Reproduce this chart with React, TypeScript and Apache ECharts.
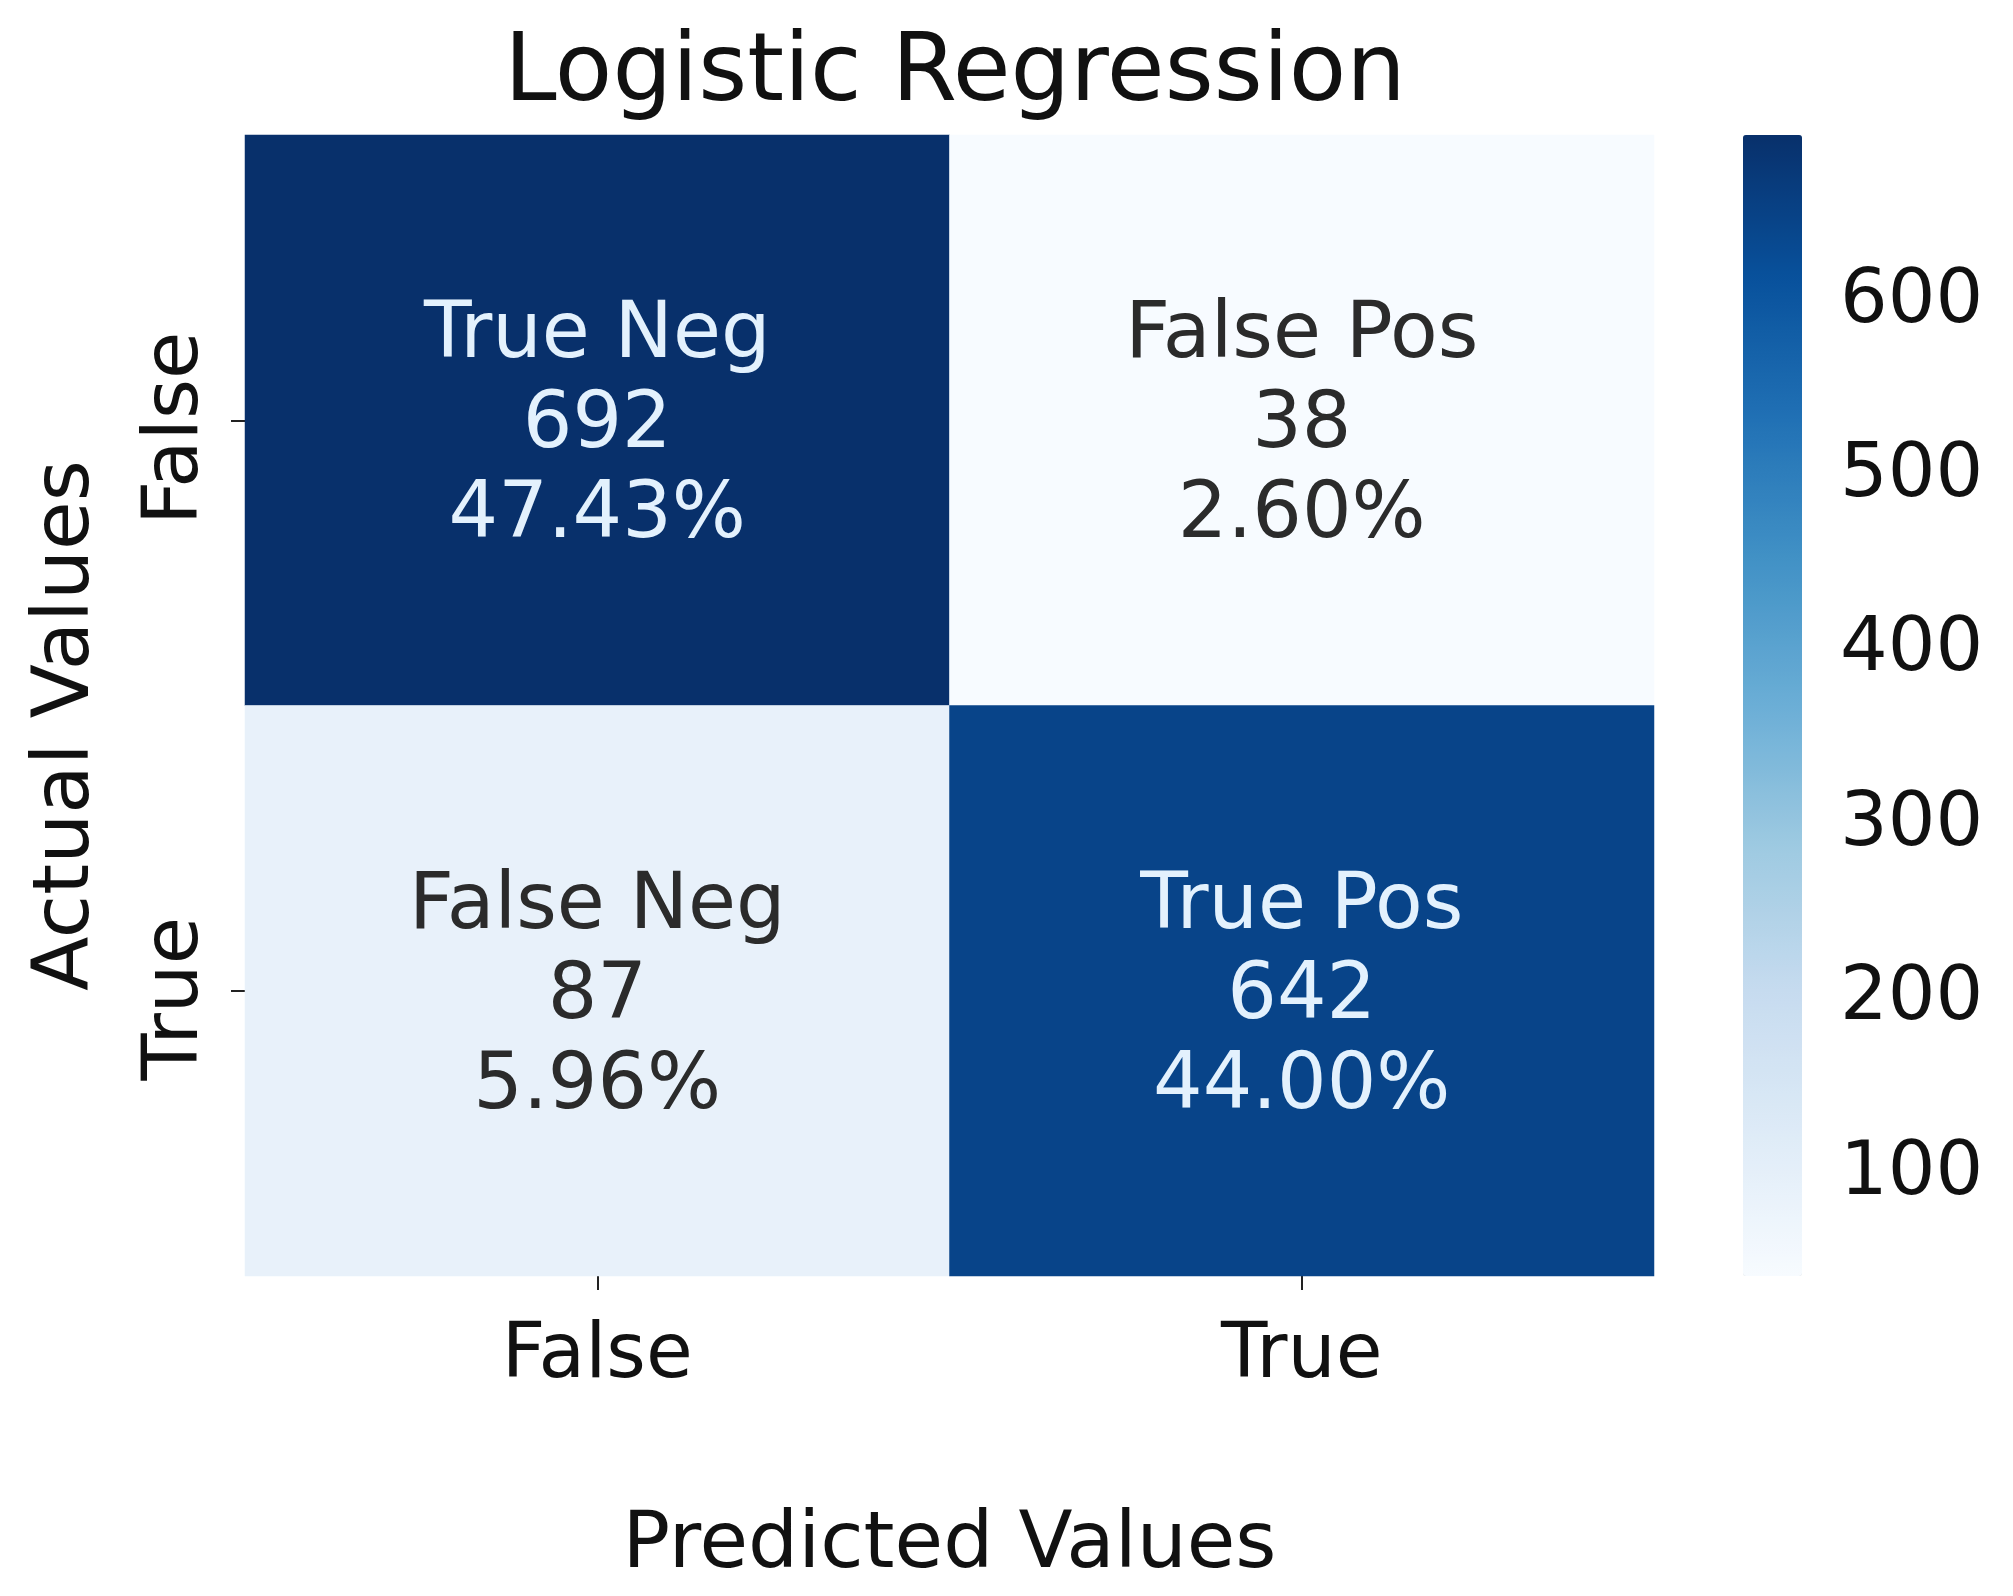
import React, { useEffect, useRef } from "react";
import * as echarts from "echarts";

const predictedCategories = ["False", "True"];
const actualCategories = ["False", "True"];
// [predictedIndex, actualIndex]
const cellPositions = [
  [0, 0],
  [1, 0],
  [0, 1],
  [1, 1],
];
const cellNames = ["True Neg", "False Pos", "False Neg", "True Pos"];
const cellCounts = [692, 38, 87, 642];
const colorbarTicks = [100, 200, 300, 400, 500, 600];
const blues = [
  "#f7fbff",
  "#deebf7",
  "#c6dbef",
  "#9ecae1",
  "#6baed6",
  "#4292c6",
  "#2171b5",
  "#08519c",
  "#08306b",
];

const FONT = "DejaVu Sans";

export default function App() {
  const ref = useRef<HTMLDivElement>(null);
  useEffect(() => {
    if (!ref.current) return;
    const chart = echarts.init(ref.current, null, { renderer: "svg" });
    const total = cellCounts.reduce((a, b) => a + b, 0);
    const vmin = Math.min(...cellCounts);
    const vmax = Math.max(...cellCounts);
    const data = cellPositions.map((p, i) => {
      const dark = (cellCounts[i] - vmin) / (vmax - vmin) > 0.5;
      return {
        value: [p[0], p[1], cellCounts[i]],
        name: cellNames[i],
        pct: ((cellCounts[i] / total) * 100).toFixed(2) + "%",
        label: { color: dark ? "#e3f1fd" : "#2b2b2b" },
      };
    });
    const gridLeft = 245;
    const gridTop = 135;
    const gridW = 1409;
    const gridH = 1141;
    chart.setOption({
      animation: false,
      backgroundColor: "#ffffff",
      title: {
        text: "Logistic Regression",
        left: 950,
        top: 15,
        textAlign: "center",
        textStyle: {
          fontFamily: FONT,
          fontSize: 94,
          fontWeight: "normal",
          color: "#111111",
        },
      },
      grid: [
        { left: gridLeft, top: gridTop, width: gridW, height: gridH },
        { left: 1743, top: gridTop, width: 59, height: gridH },
      ],
      xAxis: [
        {
          type: "category",
          gridIndex: 0,
          data: predictedCategories,
          position: "bottom",
          axisLine: { show: false },
          axisTick: { show: true, alignWithLabel: true, length: 14, lineStyle: { color: "#222", width: 2 } },
          axisLabel: { fontFamily: FONT, fontSize: 76, color: "#111111", margin: 36 },
          splitLine: { show: false },
          name: "Predicted Values",
          nameLocation: "middle",
          nameGap: 224,
          nameTextStyle: { fontFamily: FONT, fontSize: 79, color: "#111111" },
        },
        {
          type: "value",
          gridIndex: 1,
          show: false,
        },
      ],
      yAxis: [
        {
          type: "category",
          gridIndex: 0,
          data: actualCategories,
          inverse: true,
          axisLine: { show: false },
          axisTick: { show: true, alignWithLabel: true, length: 14, lineStyle: { color: "#222", width: 2 } },
          axisLabel: {
            fontFamily: FONT,
            fontSize: 77,
            color: "#111111",
            rotate: 90,
            margin: 36,
            padding: [0, 16, 0, 0],
          },
          splitLine: { show: false },
          name: "Actual Values",
          nameLocation: "middle",
          nameRotate: 90,
          nameGap: 145,
          nameTextStyle: { fontFamily: FONT, fontSize: 79, color: "#111111", padding: [0, 40, 0, 0] },
        },
        {
          type: "value",
          gridIndex: 1,
          position: "right",
          min: vmin,
          max: vmax,
          axisLine: { show: false },
          splitLine: { show: false },
          axisTick: {
            show: true,
            length: 14,
            customValues: colorbarTicks,
            lineStyle: { color: "#222", width: 2 },
          },
          axisLabel: {
            fontFamily: FONT,
            fontSize: 75,
            color: "#111111",
            margin: 38,
            padding: [8, 0, 0, 0],
            customValues: colorbarTicks,
          },
        },
      ],
      visualMap: {
        type: "continuous",
        min: vmin,
        max: vmax,
        calculable: false,
        orient: "vertical",
        left: 1743,
        top: gridTop,
        itemWidth: 59,
        itemHeight: gridH,
        padding: 0,
        text: null,
        seriesIndex: 0,
        inRange: { color: blues },
      },
      series: [
        {
          type: "heatmap",
          xAxisIndex: 0,
          yAxisIndex: 0,
          data,
          label: {
            show: true,
            fontFamily: FONT,
            fontSize: 78,
            lineHeight: 90,
            formatter: (p: any) => `${p.data.name}\n${p.data.value[2]}\n${p.data.pct}`,
          },
          emphasis: { disabled: true },
        },
      ],
    });
    return () => chart.dispose();
  }, []);
  return (
    <div
      ref={ref}
      style={{ position: "fixed", left: 0, top: 0, width: 2013, height: 1596, background: "#fff" }}
    />
  );
}
